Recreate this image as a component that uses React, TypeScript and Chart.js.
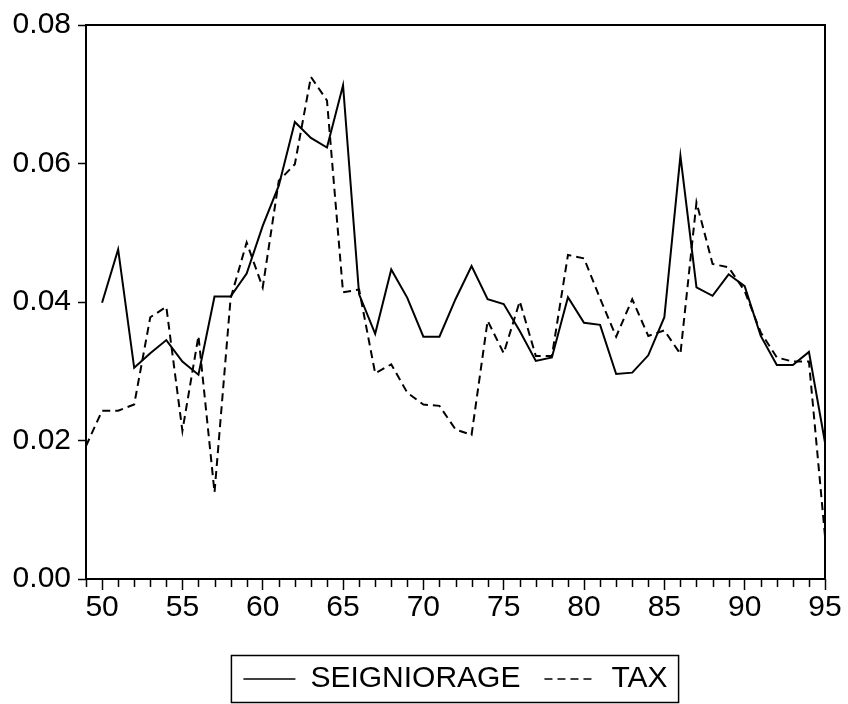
import React, { useEffect, useRef } from 'react';
import { Chart, registerables } from 'chart.js';

Chart.register(...registerables);

const years = [49, 50, 51, 52, 53, 54, 55, 56, 57, 58, 59, 60, 61, 62, 63, 64, 65, 66, 67, 68, 69, 70, 71, 72, 73, 74, 75, 76, 77, 78, 79, 80, 81, 82, 83, 84, 85, 86, 87, 88, 89, 90, 91, 92, 93, 94, 95];

const seigniorage = [null, 0.0399, 0.0476, 0.0305, 0.0326, 0.0345, 0.0314, 0.0295, 0.0408, 0.0408, 0.0441, 0.0510, 0.0568, 0.0660, 0.0637, 0.0623, 0.0713, 0.0411, 0.0354, 0.0447, 0.0406, 0.0350, 0.0350, 0.0404, 0.0452, 0.0404, 0.0397, 0.0358, 0.0315, 0.0320, 0.0407, 0.0370, 0.0367, 0.0296, 0.0298, 0.0323, 0.0378, 0.0611, 0.0421, 0.0409, 0.0440, 0.0423, 0.0351, 0.0309, 0.0309, 0.0328, 0.0197];

const tax = [0.0192, 0.0243, 0.0243, 0.0252, 0.0378, 0.0393, 0.0214, 0.0351, 0.0125, 0.0405, 0.0486, 0.0421, 0.0575, 0.0599, 0.0725, 0.0691, 0.0414, 0.0418, 0.0297, 0.0310, 0.0269, 0.0252, 0.0250, 0.0216, 0.0208, 0.0373, 0.0326, 0.0401, 0.0322, 0.0322, 0.0468, 0.0463, 0.0405, 0.0350, 0.0404, 0.0351, 0.0359, 0.0325, 0.0544, 0.0455, 0.0450, 0.0416, 0.0356, 0.0320, 0.0314, 0.0314, 0.0062];

const seriesNames = ['SEIGNIORAGE', 'TAX'];
const yTicks = [0, 0.02, 0.04, 0.06, 0.08];
const xMajorStep = 5;

const FONT = 'Arial, "Liberation Sans", Helvetica, sans-serif';

const framePlugin = {
  id: 'frameAndMinorTicks',
  afterDraw(chart: any) {
    const { ctx, chartArea } = chart;
    const xs = chart.scales.x;
    ctx.save();
    ctx.strokeStyle = '#000';
    ctx.lineWidth = 2;
    ctx.setLineDash([]);
    ctx.strokeRect(chartArea.left, chartArea.top, chartArea.right - chartArea.left, chartArea.bottom - chartArea.top);
    ctx.lineWidth = 1.5;
    ctx.beginPath();
    years.forEach((yr) => {
      if (yr % xMajorStep !== 0) {
        const px = Math.round(xs.getPixelForValue(yr)) + 0.5;
        ctx.moveTo(px, chartArea.bottom);
        ctx.lineTo(px, chartArea.bottom + 8);
      }
    });
    ctx.stroke();
    // legend border
    const lg = chart.legend;
    if (lg && lg.legendHitBoxes && lg.legendHitBoxes.length) {
      let l = Infinity, r = -Infinity, t = Infinity, b = -Infinity;
      lg.legendHitBoxes.forEach((h: any) => {
        l = Math.min(l, h.left);
        r = Math.max(r, h.left + h.width);
        t = Math.min(t, h.top);
        b = Math.max(b, h.top + h.height);
      });
      const cy = (t + b) / 2;
      ctx.lineWidth = 1.5;
      ctx.strokeRect(l - 12, cy - 23.5, r - l + 23, 47);
    }
    ctx.restore();
  },
};

export default function App() {
  const ref = useRef<HTMLCanvasElement>(null);
  useEffect(() => {
    if (!ref.current) return;
    const chart = new Chart(ref.current, {
      type: 'line',
      data: {
        datasets: [
          {
            label: seriesNames[0],
            data: years.map((yr, i) => ({ x: yr, y: seigniorage[i] })) as any,
            borderColor: '#000',
            backgroundColor: 'rgba(0,0,0,0)',
            borderWidth: 2,
            pointRadius: 0,
            tension: 0,
            spanGaps: false,
          },
          {
            label: seriesNames[1],
            data: years.map((yr, i) => ({ x: yr, y: tax[i] })) as any,
            borderColor: '#000',
            backgroundColor: 'rgba(0,0,0,0)',
            borderWidth: 2,
            borderDash: [8, 5],
            pointRadius: 0,
            tension: 0,
          },
        ],
      },
      options: {
        animation: false,
        responsive: true,
        maintainAspectRatio: false,
        layout: { padding: { left: 0, right: 23, top: 23, bottom: 0 } },
        plugins: {
          tooltip: { enabled: false },
          legend: {
            position: 'bottom',
            fullSize: false,
            align: 'center',
            labels: {
              color: '#000',
              font: { family: FONT, size: 30 },
              usePointStyle: true,
              pointStyle: 'line',
              pointStyleWidth: 52,
              boxHeight: 30,
              padding: 24,
              generateLabels: (c: any) =>
                c.data.datasets.map((d: any, i: number) => ({
                  text: d.label,
                  fillStyle: 'rgba(0,0,0,0)',
                  strokeStyle: '#000',
                  lineWidth: 1.3,
                  lineDash: i === 1 ? [8, 5] : [],
                  pointStyle: 'line',
                  hidden: false,
                  datasetIndex: i,
                  fontColor: '#000',
                })),
            },
          },
        },
        scales: {
          x: {
            type: 'linear',
            min: 49,
            max: 95,
            afterFit: (s: any) => { s.height = 61; },
            ticks: {
              stepSize: 1,
              autoSkip: false,
              maxRotation: 0,
              color: '#000',
              padding: 0,
              font: { family: FONT, size: 30 },
              callback: (v: any) => (Number(v) % xMajorStep === 0 ? String(v) : ''),
            },
            grid: {
              drawOnChartArea: false,
              tickLength: 11,
              tickWidth: 1.5,
              tickColor: (ctx: any) => (ctx.tick && ctx.tick.value % xMajorStep === 0 ? '#000' : 'rgba(0,0,0,0)'),
            },
            border: { display: false },
          },
          y: {
            min: 0,
            max: 0.08,
            afterFit: (s: any) => { s.width = 86; },
            afterBuildTicks: (s: any) => { s.ticks = yTicks.map((v) => ({ value: v })); },
            ticks: {
              color: '#000',
              padding: 7,
              font: { family: FONT, size: 30 },
              callback: (v: any) => Number(v).toFixed(2),
            },
            grid: {
              drawOnChartArea: false,
              tickLength: 8,
              tickWidth: 1.5,
              tickColor: '#000',
            },
            border: { display: false },
          },
        },
      },
      plugins: [framePlugin],
    });
    return () => chart.destroy();
  }, []);
  return (
    <div style={{ position: 'fixed', left: 0, top: 0, width: 848, height: 704, background: '#fff' }}>
      <canvas ref={ref} />
    </div>
  );
}
